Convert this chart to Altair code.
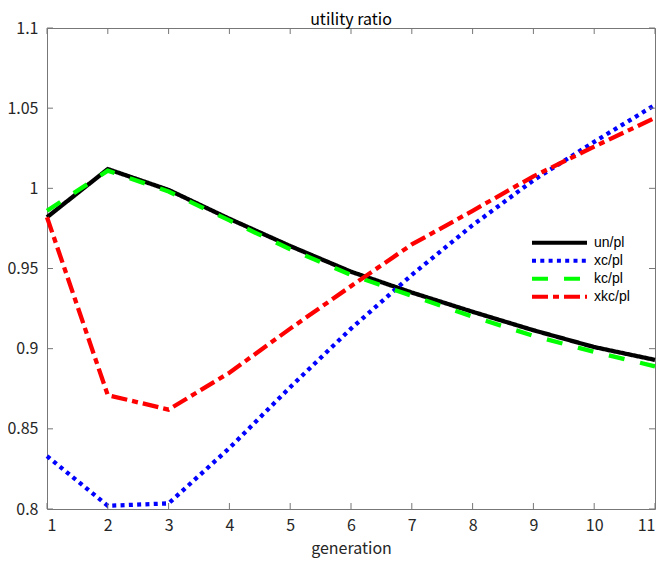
import altair as alt
import pandas as pd

generation = list(range(1, 12))
series_names = ["un/pl", "xc/pl", "kc/pl", "xkc/pl"]
un_pl = [0.982, 1.012, 0.999, 0.981, 0.964, 0.948, 0.935, 0.923, 0.9115, 0.901, 0.893]
xc_pl = [0.833, 0.802, 0.8035, 0.838, 0.876, 0.9125, 0.946, 0.977, 1.005, 1.029, 1.052]
kc_pl = [0.986, 1.011, 0.998, 0.980, 0.962, 0.946, 0.933, 0.920, 0.908, 0.898, 0.889]
xkc_pl = [0.982, 0.871, 0.862, 0.885, 0.9125, 0.939, 0.965, 0.986, 1.0075, 1.026, 1.044]
y_ticks = [0.8, 0.85, 0.9, 0.95, 1.0, 1.05, 1.1]

colors = ["#000000", "#0000ff", "#00ff00", "#ff0000"]
dashes = [[1, 0], [4, 4.3], [16, 16], [16, 5, 6, 5]]

rows = []
for name, vals in zip(series_names, [un_pl, xc_pl, kc_pl, xkc_pl]):
    for g, v in zip(generation, vals):
        rows.append({"generation": g, "value": v, "series": name})
df = pd.DataFrame(rows)
xt = pd.DataFrame({"generation": generation})
yt = pd.DataFrame({"value": y_ticks})

W, H = 608, 481
TL = 6
FRAME = "#777777"
FONT = "Noto Sans CJK JP"
xscale = alt.Scale(domain=[1, 11], nice=False, zero=False)
yscale = alt.Scale(domain=[0.8, 1.1], nice=False, zero=False)

x_axis = alt.Axis(orient="bottom", values=generation, format="d", ticks=False, domain=False, grid=False,
                  labelPadding=8, title="generation", titlePadding=7,
                  labelFont=FONT, labelFontSize=16, labelColor="#262626",
                  titleFont=FONT, titleFontSize=16, titleFontWeight="normal", titleColor="#262626")
y_axis = alt.Axis(orient="left", values=y_ticks, format="~g", ticks=False, domain=False, grid=False,
                  labelPadding=9, title="",
                  labelFont=FONT, labelFontSize=16, labelColor="#262626")

legend_kw = dict(title=None, orient="none", legendX=483, legendY=206,
                 symbolType="stroke", symbolSize=3025, symbolStrokeWidth=4,
                 clipHeight=17.3, rowPadding=0, padding=0, labelOffset=5,
                 labelFont="Liberation Sans", labelFontSize=14, labelColor="#000000")

main = alt.Chart(df).mark_line(strokeWidth=4.3, strokeCap="butt", strokeJoin="miter").encode(
    x=alt.X("generation:Q", scale=xscale, axis=x_axis),
    y=alt.Y("value:Q", scale=yscale, axis=y_axis),
    color=alt.Color("series:N", scale=alt.Scale(domain=series_names, range=colors),
                    legend=alt.Legend(**legend_kw)),
    strokeDash=alt.StrokeDash("series:N", scale=alt.Scale(domain=series_names, range=dashes),
                              legend=alt.Legend(**legend_kw)),
    detail="series:N",
)

rule = dict(color=FRAME, strokeWidth=1)
left_ticks = alt.Chart(yt).mark_rule(**rule).encode(
    y=alt.Y("value:Q", scale=yscale, axis=y_axis), x=alt.value(0), x2=alt.value(TL))
right_ticks = alt.Chart(yt).mark_rule(**rule).encode(
    y=alt.Y("value:Q", scale=yscale, axis=y_axis), x=alt.value(W - TL), x2=alt.value(W))
top_ticks = alt.Chart(xt).mark_rule(**rule).encode(
    x=alt.X("generation:Q", scale=xscale, axis=x_axis), y=alt.value(0), y2=alt.value(TL))
bottom_ticks = alt.Chart(xt).mark_rule(**rule).encode(
    x=alt.X("generation:Q", scale=xscale, axis=x_axis), y=alt.value(H - TL), y2=alt.value(H))

chart = alt.layer(main, left_ticks, right_ticks, top_ticks, bottom_ticks).properties(
    width=W, height=H,
    title=alt.Title("utility ratio", font=FONT, fontSize=16, fontWeight="normal", color="#000000", offset=-8),
    autosize=alt.AutoSizeParams(type="none"),
    padding={"left": 39, "top": 20, "right": 3, "bottom": 52},
).configure_view(stroke=FRAME, strokeWidth=1)

chart.save("out.html", embed_options={"renderer": "svg", "actions": False})
